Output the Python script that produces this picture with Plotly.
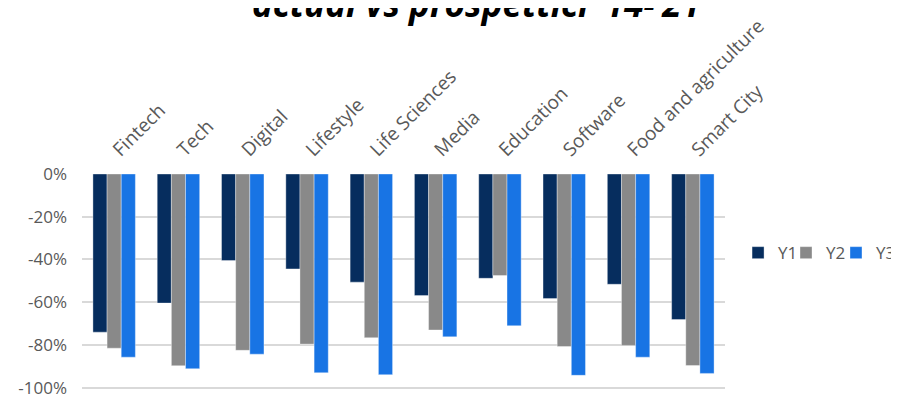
import plotly.graph_objects as go

categories = ["Fintech", "Tech", "Digital", "Lifestyle", "Life Sciences", "Media",
              "Education", "Software", "Food and agriculture", "Smart City"]
y1 = [-74.0, -60.4, -40.5, -44.4, -50.6, -56.9, -48.8, -58.3, -51.6, -68.1]
y2 = [-81.5, -89.7, -82.5, -79.6, -76.6, -73.0, -47.5, -80.7, -80.2, -89.6]
y3 = [-85.7, -91.1, -84.3, -93.0, -93.9, -76.2, -71.0, -94.2, -85.7, -93.3]
series_names = ["Y1", "Y2", "Y3"]
colors = ["#062D5E", "#898989", "#1874E4"]
y_ticks = [0, -20, -40, -60, -80, -100]
y_tick_labels = ["0%", "-20%", "-40%", "-60%", "-80%", "-100%"]
title_text = "actual vs prospettici ‘14-’21"

legend_ids = ["legend", "legend2", "legend3"]
legend_x = [1.0203, 1.0949, 1.1726]

fig = go.Figure()
for name, vals, col, lid in zip(series_names, [y1, y2, y3], colors, legend_ids):
    fig.add_trace(go.Bar(
        x=categories, y=vals, name=name, legend=lid,
        marker=dict(color=col, line=dict(color="rgba(255,255,255,0.45)", width=0.8)),
    ))

font_family = "Open Sans, Lato, sans-serif"
leg_common = dict(orientation="h", xanchor="left", y=0.632, yanchor="middle",
                  font=dict(family=font_family, size=17, color="#595959"),
                  itemwidth=30, bgcolor="rgba(0,0,0,0)")
fig.update_layout(
    width=891, height=386,
    margin=dict(l=74, r=174, t=166, b=5, autoexpand=False),
    paper_bgcolor="white", plot_bgcolor="white",
    barmode="group", bargap=0.34, bargroupgap=0,
    showlegend=True,
    legend=dict(x=legend_x[0], **leg_common),
    legend2=dict(x=legend_x[1], **leg_common),
    legend3=dict(x=legend_x[2], **leg_common),
    font=dict(family=font_family, color="#595959"),
)
fig.update_xaxes(side="top", tickangle=-45, showgrid=False, showline=False, ticks="",
                 automargin=False, ticklabelstandoff=9,
                 tickfont=dict(family=font_family, size=19, color="#595959"))
fig.update_yaxes(range=[-100.6, 0], tickvals=y_ticks, ticktext=y_tick_labels,
                 showgrid=True, gridcolor="#D9D9D9", gridwidth=1.5,
                 zeroline=False, showline=False, ticks="", ticklabelstandoff=14,
                 automargin=False, ticklabeloverflow="allow",
                 tickfont=dict(family=font_family, size=17, color="#595959"))

fig.add_annotation(text="<b><i>" + title_text + "</i></b>", xref="paper", yref="paper",
                   x=0.613, y=1.675, xanchor="center", yanchor="bottom", showarrow=False,
                   font=dict(family=font_family, size=35, color="black"))

fig.write_html("out.html")
